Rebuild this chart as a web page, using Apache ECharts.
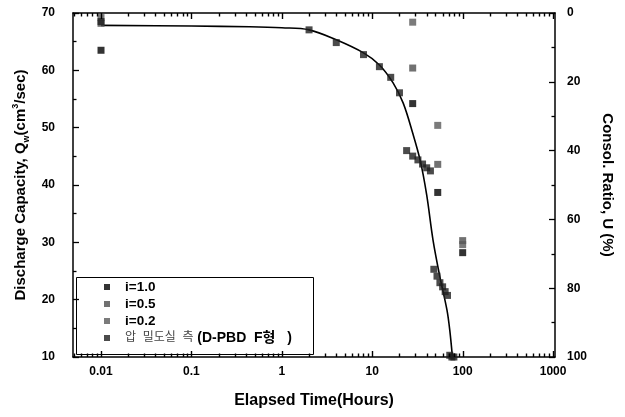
<!DOCTYPE html>
<html>
<head>
<meta charset="utf-8">
<script src="https://cdn.jsdelivr.net/npm/echarts@6/dist/echarts.min.js"></script>
<style>html,body{margin:0;padding:0;background:#fff}#c{width:625px;height:417px}</style>
</head>
<body>
<div id="c"></div>
<script>
// ---- data ----
const seriesNames = ['i=1.0', 'i=0.5', 'i=0.2', '압 밀도실 측 (D-PBD F형 )'];
const timeI10 = [0.01, 28, 53, 100];
const qI10 = [63.5, 54.2, 38.7, 28.2];
const timeI05 = [0.01, 28, 53, 100];
const qI05 = [68.2, 60.4, 43.6, 30.3];
const timeI02 = [0.01, 28, 53, 100];
const qI02 = [69.2, 68.4, 50.4, 29.6];
const timeMeas = [0.01, 2, 4, 8, 12, 16, 20, 24, 28, 32, 36, 40, 44, 48, 52, 56, 60, 64, 68, 72, 76, 80];
const uMeas = [2.5, 4.9, 8.6, 12.1, 15.6, 18.7, 23.2, 40.0, 41.6, 42.7, 43.9, 45.0, 45.9, 74.5, 76.5, 78.4, 79.6, 81.0, 82.1, 99.5, 100, 100];
const timeTheory = [0.01, 0.1, 0.44, 1, 2, 4, 8, 12, 17, 22, 28, 34, 40, 47, 56, 67, 72, 77];
const uTheory = [3.6, 3.8, 4.0, 4.3, 4.9, 7.8, 11.6, 15.1, 20.3, 26.2, 34.9, 43.0, 52.9, 66.0, 76.7, 86.3, 92.2, 100];
const xTickLabels = [0.01, 0.1, 1, 10, 100, 1000];
const xMinorMultipliers = [2, 3, 4, 5, 6, 7, 8, 9];
const xDecades = [0.001, 0.01, 0.1, 1, 10, 100];

const X_MIN = 0.0049, X_MAX = 1050;
const Q_MIN = 10, Q_MAX = 70;
const zip = (a, b) => a.map((v, i) => [v, b[i]]);

// minor tick positions of the log axis
const xMinorTicks = [];
xDecades.forEach(d => xMinorMultipliers.forEach(m => {
  const t = +(d * m).toPrecision(6);
  if (t > X_MIN && t < X_MAX) xMinorTicks.push(t);
}));

const FONT = "'Liberation Sans', Arial, 'Noto Sans CJK KR', sans-serif";
const chart = echarts.init(document.getElementById('c'), null, {renderer: 'canvas'});

const axisLine = {show: true, onZero: false, lineStyle: {color: '#000', width: 1.5}};
const tickLabel = {color: '#000', fontFamily: FONT, fontWeight: 'bold', fontSize: 12};

const legendBox = {
  type: 'rect', left: 74, top: 275, z: 10, silent: true,
  shape: {width: 237, height: 77},
  style: {fill: 'none', stroke: '#000', lineWidth: 1}
};

chart.setOption({
  animation: false,
  backgroundColor: '#fff',
  grid: {left: 73, right: 70, top: 13, bottom: 60, containLabel: false},
  graphic: [legendBox],
  legend: {
    orient: 'vertical',
    left: 74, top: 275,
    data: seriesNames,
    icon: 'rect',
    itemWidth: 6, itemHeight: 6, itemGap: 3,
    padding: [5, 8, 7, 30],
    borderWidth: 0,
    selectedMode: false,
    formatter: n => n.startsWith('압') ? '{k|압  밀도실  측} {b|(D-PBD  F형   )}' : n,
    textStyle: {
      color: '#000', fontFamily: FONT, fontWeight: 'bold', fontSize: 13.5, lineHeight: 14,
      padding: [0, 0, 0, 10],
      rich: {
        k: {color: '#444', fontFamily: FONT, fontWeight: 'normal', fontSize: 12, lineHeight: 14},
        b: {color: '#000', fontFamily: FONT, fontWeight: 'bold', fontSize: 14, lineHeight: 14}
      }
    }
  },
  xAxis: [{
    type: 'log', min: X_MIN, max: X_MAX, position: 'bottom',
    axisLine: axisLine, axisTick: {show: false}, splitLine: {show: false},
    axisLabel: Object.assign({margin: 9, showMinLabel: true, showMaxLabel: true,
      formatter: v => { const hit = xTickLabels.find(t => Math.abs(Math.log10(t) - Math.log10(v)) < 1e-6); return hit === undefined ? '' : String(hit); }}, tickLabel),
    name: 'Elapsed Time(Hours)', nameLocation: 'middle', nameGap: 36,
    nameTextStyle: {color: '#000', fontFamily: FONT, fontWeight: 'bold', fontSize: 16}
  }, {
    type: 'log', min: X_MIN, max: X_MAX, position: 'top',
    axisLine: axisLine, axisTick: {show: false}, axisLabel: {show: false}, splitLine: {show: false}
  }],
  yAxis: [{
    type: 'value', min: Q_MIN, max: Q_MAX, interval: 10, position: 'left',
    axisLine: axisLine,
    axisTick: {show: true, inside: true, length: 6, lineStyle: {color: '#000', width: 1.3}},
    minorTick: {show: true, splitNumber: 2, length: 3.5, lineStyle: {color: '#000', width: 1.3}},
    splitLine: {show: false},
    axisLabel: Object.assign({margin: 18}, tickLabel),
    name: 'Discharge Capacity, Q{sub|w}(cm{sup|3}/sec)', nameLocation: 'middle', nameGap: 33,
    nameTextStyle: {
      color: '#000', fontFamily: FONT, fontWeight: 'bold', fontSize: 15, lineHeight: 20,
      rich: {
        sub: {fontFamily: FONT, fontWeight: 'bold', fontSize: 9, lineHeight: 9, verticalAlign: 'bottom', color: '#000'},
        sup: {fontFamily: FONT, fontWeight: 'bold', fontSize: 9, lineHeight: 9, verticalAlign: 'top', color: '#000'}
      }
    }
  }, {
    type: 'value', min: 0, max: 100, interval: 20, inverse: true, position: 'right',
    axisLine: axisLine,
    axisTick: {show: true, inside: true, length: 6, lineStyle: {color: '#000', width: 1.3}},
    minorTick: {show: true, splitNumber: 2, length: 3.5, lineStyle: {color: '#000', width: 1.3}},
    splitLine: {show: false},
    axisLabel: Object.assign({margin: 12}, tickLabel),
    name: 'Consol. Ratio, U (%)', nameLocation: 'middle', nameGap: 45, nameRotate: -90,
    nameTextStyle: {color: '#000', fontFamily: FONT, fontWeight: 'bold', fontSize: 15}
  }],
  series: [
    {
      name: 'theory', type: 'line', xAxisIndex: 0, yAxisIndex: 1,
      data: zip(timeTheory, uTheory), smooth: 0.35, showSymbol: false, symbol: 'none',
      lineStyle: {color: '#000', width: 1.6}, z: 3, silent: true
    },
    {name: seriesNames[0], type: 'scatter', xAxisIndex: 0, yAxisIndex: 0, data: zip(timeI10, qI10),
      symbol: 'rect', symbolSize: 7, itemStyle: {color: '#000'}, z: 4},
    {name: seriesNames[1], type: 'scatter', xAxisIndex: 0, yAxisIndex: 0, data: zip(timeI05, qI05),
      symbol: 'rect', symbolSize: 7, itemStyle: {color: '#4e4e4e'}, z: 4},
    {name: seriesNames[2], type: 'scatter', xAxisIndex: 0, yAxisIndex: 0, data: zip(timeI02, qI02),
      symbol: 'rect', symbolSize: 7, itemStyle: {color: '#5a5a5a'}, z: 4},
    {name: seriesNames[3], type: 'scatter', xAxisIndex: 0, yAxisIndex: 1, data: zip(timeMeas, uMeas),
      symbol: 'rect', symbolSize: 7, itemStyle: {color: '#1e1e1e'}, z: 4}
  ]
});

// log-axis tick marks, positioned through the chart's own x scale
const tickEls = [legendBox];
function addTicks(ticks, len) {
  ticks.forEach(t => {
    const pb = chart.convertToPixel({xAxisIndex: 0, yAxisIndex: 0}, [t, Q_MIN]);
    const pt = chart.convertToPixel({xAxisIndex: 0, yAxisIndex: 0}, [t, Q_MAX]);
    if (!pb || !pt) return;
    const x = Math.round(pb[0]) + 0.5;
    tickEls.push({type: 'line', silent: true, z: 20,
      shape: {x1: x, y1: pb[1], x2: x, y2: pb[1] - len}, style: {stroke: '#000', lineWidth: 1.4}});
    tickEls.push({type: 'line', silent: true, z: 20,
      shape: {x1: x, y1: pt[1], x2: x, y2: pt[1] + len}, style: {stroke: '#000', lineWidth: 1.4}});
  });
}
addTicks(xTickLabels, 6);
addTicks(xMinorTicks, 3.5);
chart.setOption({graphic: tickEls}, {replaceMerge: ['graphic']});
</script>
</body>
</html>
